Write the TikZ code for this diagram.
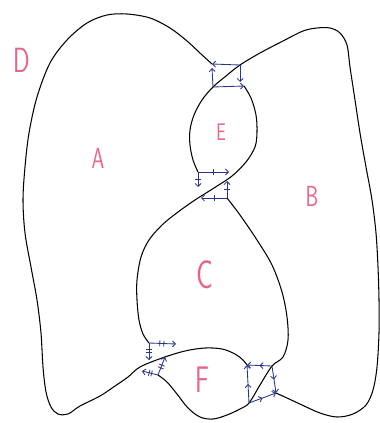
\documentclass[tikz,border=0pt]{standalone}
\usetikzlibrary{arrows.meta,decorations.markings}
\definecolor{inkblue}{RGB}{40,52,140}
\definecolor{inkpink}{RGB}{232,100,135}
\tikzset{
  curve/.style={line width=1.05pt, black, line join=round, line cap=round},
  marr/.style={inkblue, line width=0.85pt, -{Straight Barb[length=3pt,width=6pt]}},
  onetick/.style={postaction={decorate}, decoration={markings,
      mark=at position 0.5 with {\draw[-, inkblue, line width=0.8pt] (0,-3pt) -- (0,3pt);}}},
  twoticks/.style={postaction={decorate}, decoration={markings,
      mark=at position 0.4 with {\draw[-, inkblue, line width=0.8pt] (0,-3pt) -- (0,3pt);},
      mark=at position 0.55 with {\draw[-, inkblue, line width=0.8pt] (0,-3pt) -- (0,3pt);}}},
  twoheads/.style={postaction={decorate}, decoration={markings,
      mark=at position 0.5 with {\arrow[inkblue, line width=0.85pt]{Straight Barb[length=3pt,width=6pt]}}}},
  lbl/.style={inkpink, font=\sffamily, inner sep=0pt, xscale=0.7}
}
\begin{document}
\begin{tikzpicture}[x=1pt,y=-1pt]
\useasboundingbox (0,0) rectangle (380,423);
% square corners
\coordinate (tTL) at (212,64);  \coordinate (tTR) at (240,65);
\coordinate (tBL) at (213,87);  \coordinate (tBR) at (244,86);
\coordinate (mTL) at (198,172); \coordinate (mBR) at (227,198);
\coordinate (mTe) at (229,172); \coordinate (mLe) at (198,187);
\coordinate (mBe) at (201,198); \coordinate (mRe) at (227,181);
\coordinate (lTL) at (149,343); \coordinate (lBR) at (158,375);
\coordinate (lTe) at (176,344); \coordinate (lLe) at (149,360);
\coordinate (lRe) at (165,357); \coordinate (lBe) at (142,371);
\coordinate (rTL) at (247,365); \coordinate (rTR) at (272,366);
\coordinate (rBR) at (276,393); \coordinate (rBL) at (249,403);
\coordinate (tRe) at (240,82);  \coordinate (tLe) at (212,68);

% curve P1: E left, top diagonal, B boundary
\draw[curve] plot[smooth, tension=0.55] coordinates {(mTL) (193,160) (190,145) (190,130) (194,115) (202,100) (tBL) (226,76) (tTR) (260,53) (283,41) (303,31) (317,28) (330,28) (340,33) (347,45) (350,67) (355,100) (360,133) (366,167) (372,200) (376,233) (378,267) (379,300) (379,333) (377,367) (373,390) (366,405) (353,414) (337,417) (320,413) (302,405) (287,398) (rBR)};
% curve P2: A outer, bottom-left diagonal, F top
\draw[curve] plot[smooth, tension=0.55] coordinates {(tTL) (201,54) (187,41) (170,28) (150,18) (127,14) (107,15) (87,23) (67,40) (50,63) (37,97) (29,133) (25,167) (23,200) (25,233) (31,267) (37,300) (41,333) (43,367) (46,392) (51,407) (58,414) (68,414) (80,406) (100,396) (115,386) (128,377) (140,367) (162,358) (185,351) (205,348) (222,349) (235,354) (243,360) (rTL)};
% curve P3: E right, middle diagonal, C left
\draw[curve] plot[smooth, tension=0.55] coordinates {(tBR) (251,98) (256,115) (257,132) (255,147) (246,162) (232,176) (214,188) (195,200) (178,212) (162,225) (149,240) (141,257) (137,280) (137,300) (139,320) (143,334) (lTL)};
% curve P4: C right, bottom-right diagonal, F bottom
\draw[curve] plot[smooth, tension=0.55] coordinates {(mBR) (240,215) (257,240) (272,265) (282,292) (287,317) (288,340) (283,357) (rTR) (260,385) (rBL) (240,409) (227,415) (213,419) (200,417) (188,408) (177,394) (167,382) (lBR)};

% top square arrows
\draw[marr] (tTR) -- (tTL);
\draw[marr] (tTR) -- (tRe);
\draw[marr] (tBL) -- (tLe);
\draw[marr] (tBL) -- (tBR);
% middle square arrows
\draw[marr, onetick] (mTL) -- (mTe);
\draw[marr, onetick] (mTL) -- (mLe);
\draw[marr, onetick] (mBR) -- (mBe);
\draw[marr, onetick] (mBR) -- (mRe);
% bottom-left square arrows
\draw[marr, twoticks] (lTL) -- (lTe);
\draw[marr, twoticks] (lTL) -- (lLe);
\draw[marr, twoticks] (lBR) -- (lRe);
\draw[marr, twoticks] (lBR) -- (lBe);
% bottom-right square arrows
\draw[marr, twoheads] (rTR) -- (rTL);
\draw[marr, twoheads] (rTR) -- (rBR);
\draw[marr, twoheads] (rBL) -- (rTL);
\draw[marr, twoheads] (rBL) -- (rBR);

% labels
\node[lbl, font=\sffamily\fontsize{35}{35}\selectfont] (D) at (22,60) {D};
\node[lbl, font=\sffamily\fontsize{29}{29}\selectfont] (A) at (98,158) {A};
\node[lbl, font=\sffamily\fontsize{24}{24}\selectfont] (E) at (221,132) {E};
\node[lbl, font=\sffamily\fontsize{29}{29}\selectfont] (B) at (312,196) {B};
\node[lbl, font=\sffamily\fontsize{40}{40}\selectfont] (C) at (205,275) {C};
\node[lbl, font=\sffamily\fontsize{37}{37}\selectfont] (F) at (202,380) {F};
\end{tikzpicture}
\end{document}
